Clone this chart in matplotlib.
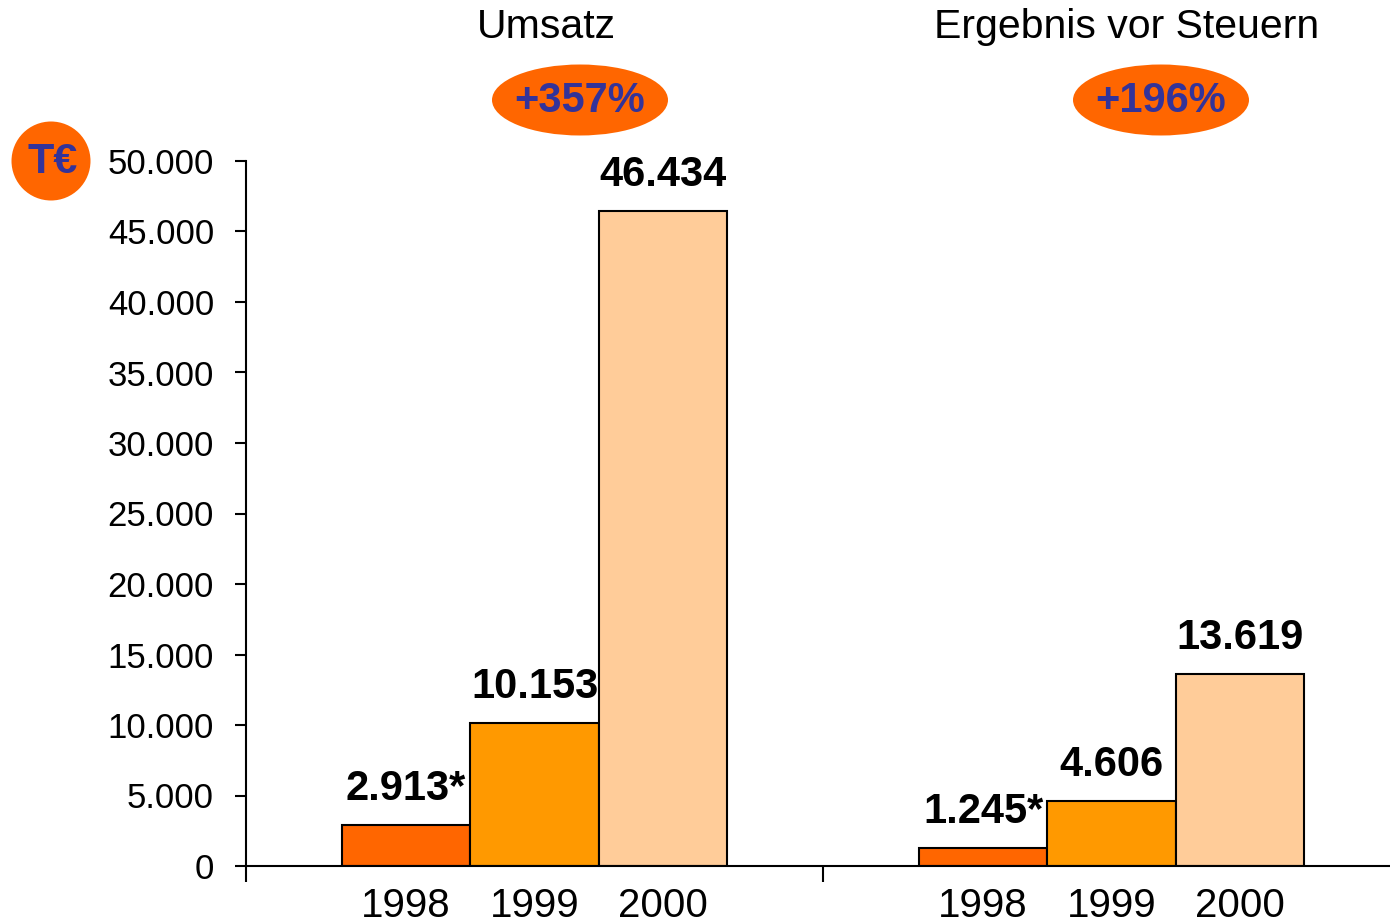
import matplotlib.pyplot as plt
from matplotlib.patches import Ellipse
import numpy as np

plt.rcParams['font.family'] = ['Liberation Sans', 'DejaVu Sans']

groups = ["Umsatz", "Ergebnis vor Steuern"]
growth = ["+357%", "+196%"]
years = ["1998", "1999", "2000"]
umsatz = [2913, 10153, 46434]
ergebnis = [1245, 4606, 13619]
notes = ["*", "", ""]
colors = ["#FF6600", "#FF9900", "#FFCC99"]
yticks = np.arange(0, 50001, 5000)

W, H = 1390, 924


def de(v):
    return f"{v:,.0f}".replace(",", ".")


fig = plt.figure(figsize=(W / 100, H / 100), dpi=100)
ax = fig.add_axes([246 / W, 58 / H, 1144 / W, 705 / H])

bw = 0.2227
offsets = [-bw, 0, bw]
centers = []
for g, vals in enumerate([umsatz, ergebnis]):
    for i, v in enumerate(vals):
        x = g + 0.5 + offsets[i]
        centers.append(x)
        ax.bar(x, v, width=bw, color=colors[i], edgecolor="black", linewidth=1.5)
        ax.annotate(de(v) + notes[i], (x, v), xytext=(0, 18), textcoords="offset points",
                    ha="center", va="baseline", fontsize=30, fontweight="bold")

ax.set_xlim(0, 1144 / 577)
ax.set_ylim(0, 50000)
ax.set_yticks(yticks)
ax.set_yticklabels([de(v) for v in yticks], fontsize=25)
ax.tick_params(axis="y", length=8, width=1.5, pad=15)

ax.set_xticks([0, 1])
ax.set_xticklabels([])
ax.tick_params(axis="x", which="major", length=11.5, width=1.5)
ax.set_xticks(centers, minor=True)
ax.set_xticklabels(years * 2, minor=True, fontsize=29)
ax.tick_params(axis="x", which="minor", length=0, pad=15)

for s in ["top", "right"]:
    ax.spines[s].set_visible(False)
ax.spines["left"].set_linewidth(1.5)
ax.spines["bottom"].set_linewidth(1.5)

# titles and growth badges
title_x = [546, 1127]
badge_x = [580, 1161]
for g in range(2):
    fig.text(title_x[g] / W, 1 - 27 / H, groups[g], ha="center", va="center", fontsize=29.5)
    fig.add_artist(Ellipse((badge_x[g] / W, 1 - 100 / H), 176 / W, 71 / H,
                           transform=fig.transFigure, color="#FF6600", lw=0))
    fig.text(badge_x[g] / W, 1 - 101 / H, growth[g], ha="center", va="center",
             fontsize=30, fontweight="bold", color="#333399")

fig.add_artist(Ellipse((51 / W, 1 - 161 / H), 79 / W, 79 / H,
                       transform=fig.transFigure, color="#FF6600", lw=0))
fig.text(53 / W, 1 - 162 / H, "T€", ha="center", va="center",
         fontsize=31, fontweight="bold", color="#333399")

fig.savefig("out.png", dpi=100)
